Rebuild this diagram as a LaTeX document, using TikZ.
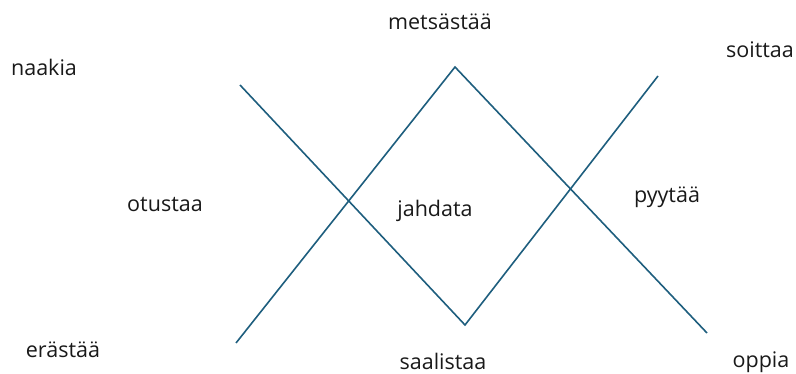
\documentclass[tikz,border=0pt]{standalone}
\usepackage{fontspec}
\setmainfont{Open Sans}
\definecolor{linecol}{HTML}{1E5E7E}
\begin{document}
\begin{tikzpicture}[x=1pt,y=-1pt,line width=1.6pt,font=\fontsize{21.5}{24}\selectfont,
  word/.style={inner sep=0pt,text=black!90}]

  \useasboundingbox (0,0) rectangle (796,374);

  % --- word labels ---
  \node[word] (naakia)    at (44,67)   {naakia};
  \node[word] (metsastaa) at (440,22)  {metsästää};
  \node[word] (soittaa)   at (760,50)  {soittaa};
  \node[word] (otustaa)   at (165,205) {otustaa};
  \node[word] (jahdata)   at (435,211) {jahdata};
  \node[word] (pyytaa)    at (667,197) {pyytää};
  \node[word] (erastaa)   at (63,350)  {erästää};
  \node[word] (saalistaa) at (443,361) {saalistaa};
  \node[word] (oppia)     at (761,362) {oppia};

  % --- corner points of the two zigzag lines ---
  \coordinate (a1) at (240,85);
  \coordinate (a2) at (465,325);
  \coordinate (a3) at (658,76);
  \coordinate (b1) at (236,343);
  \coordinate (b2) at (455,67);
  \coordinate (b3) at (707,333);

  \draw[linecol] (a1) -- (a2) -- (a3);
  \draw[linecol] (b1) -- (b2) -- (b3);

\end{tikzpicture}
\end{document}
